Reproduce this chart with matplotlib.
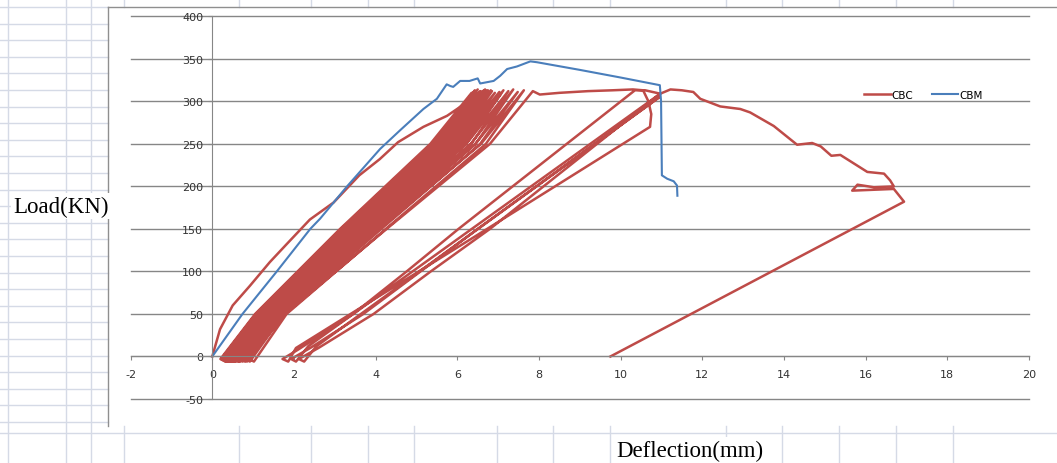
import matplotlib
matplotlib.use('Agg')
import matplotlib.pyplot as plt
from matplotlib.patches import Rectangle
import numpy as np

plt.rcParams['axes.unicode_minus'] = False

# CBM - monotonic loading (deflection mm, load kN)
cbm_x = [0.00, 0.74, 1.58, 2.40, 2.64, 3.30, 4.11, 4.60, 5.17, 5.50, 5.74, 5.83,
         5.90, 6.07, 6.30, 6.50, 6.56, 6.89, 7.05, 7.22, 7.46, 7.79, 7.95, 9.00,
         10.00, 10.96, 10.99, 11.01, 11.14, 11.30, 11.38, 11.39]
cbm_y = [0, 50, 100, 150, 162, 200, 244, 266, 291, 303, 320, 318,
         317, 324, 324, 327, 321, 324, 330, 338, 341, 347, 346, 337,
         328, 319, 300, 213, 209, 206, 201, 189]

# CBC - cyclic loading, traced point by point (deflection, load)
cbc_first = [
    (0.00, 0), (0.19, 32), (0.50, 60), (0.92, 83), (1.41, 111), (1.82, 132),
    (2.39, 161), (2.97, 181), (3.60, 213), (4.10, 232), (4.55, 252), (5.17, 270),
    (5.75, 283), (6.24, 299), (6.56, 311), (6.75, 313),
    (5.62, 250), (3.42, 150), (1.30, 50),
]
# cycles peaking near 310 kN
cbc_cycles_a = [
    (0.32, -6), (0.20, -3), (1.05, 50), (3.13, 150), (5.34, 250), (6.35, 310), (5.46, 250), (3.28, 150), (1.20, 50),
    (0.36, -6), (0.24, -3), (1.09, 50), (3.19, 150), (5.41, 250), (6.43, 313), (5.53, 250), (3.34, 150), (1.24, 50),
    (0.34, -6), (0.22, -3), (1.07, 50), (3.16, 150), (5.38, 250), (6.40, 311), (5.50, 250), (3.31, 150), (1.22, 50),
    (0.39, -6), (0.27, -3), (1.12, 50), (3.24, 150), (5.49, 250), (6.50, 314), (5.61, 250), (3.39, 150), (1.27, 50),
    (0.42, -6), (0.30, -3), (1.15, 50), (3.29, 150), (5.54, 250), (6.56, 312), (5.66, 250), (3.44, 150), (1.30, 50),
    (0.38, -6), (0.26, -3), (1.12, 50), (3.23, 150), (5.47, 250), (6.49, 309), (5.59, 250), (3.38, 150), (1.27, 50),
    (0.46, -6), (0.34, -3), (1.20, 50), (3.36, 150), (5.63, 250), (6.65, 313), (5.75, 250), (3.51, 150), (1.35, 50),
    (0.50, -6), (0.38, -3), (1.24, 50), (3.43, 150), (5.72, 250), (6.74, 311), (5.84, 250), (3.58, 150), (1.39, 50),
    (0.47, -6), (0.35, -3), (1.21, 50), (3.38, 150), (5.66, 250), (6.68, 314), (5.78, 250), (3.53, 150), (1.36, 50),
    (0.55, -6), (0.43, -3), (1.29, 50), (3.51, 150), (5.82, 250), (6.85, 312), (5.94, 250), (3.66, 150), (1.44, 50),
    (0.59, -6), (0.47, -3), (1.33, 50), (3.56, 150), (5.89, 250), (6.92, 310), (6.01, 250), (3.71, 150), (1.48, 50),
    (0.54, -6), (0.42, -3), (1.28, 50), (3.48, 150), (5.79, 250), (6.82, 313), (5.91, 250), (3.63, 150), (1.43, 50),
    (0.64, -6), (0.52, -3), (1.38, 50), (3.64, 150), (6.00, 250), (7.03, 311), (6.12, 250), (3.79, 150), (1.53, 50),
    (0.68, -6), (0.56, -3), (1.43, 50), (3.72, 150), (6.10, 250), (7.13, 313), (6.22, 250), (3.87, 150), (1.58, 50),
    (0.66, -6), (0.54, -3), (1.40, 50), (3.68, 150), (6.04, 250), (7.07, 309), (6.16, 250), (3.83, 150), (1.55, 50),
    (0.74, -6), (0.62, -3), (1.49, 50), (3.81, 150), (6.22, 250), (7.25, 312), (6.34, 250), (3.96, 150), (1.64, 50),
    (0.80, -6), (0.68, -3), (1.55, 50), (3.91, 150), (6.33, 250), (7.37, 314), (6.45, 250), (4.06, 150), (1.70, 50),
    (0.85, -6), (0.73, -3), (1.60, 50), (3.99, 150), (6.44, 250), (7.48, 311), (6.56, 250), (4.14, 150), (1.75, 50),
    (0.92, -6), (0.80, -3), (1.67, 50), (4.10, 150), (6.58, 250), (7.63, 313), (6.70, 250), (4.25, 150), (1.82, 50),
    (1.02, -6), (0.90, -3), (1.78, 50), (4.27, 150), (6.80, 250), (7.85, 312),
]
# push along the plateau and cycles from about 2 mm
cbc_cycles_b = [
    (8.02, 308), (8.50, 310), (9.20, 312), (9.80, 313), (10.30, 314), (10.55, 313),
    (10.68, 300), (10.75, 285), (10.72, 270),
    (6.73, 150), (2.05, 10), (1.86, -6), (1.72, -3),
    (2.10, 8), (3.45, 50), (4.76, 100), (6.03, 150), (10.35, 313), (10.60, 313),
    (10.97, 309),
    (2.35, 12), (2.05, -6), (1.93, -3), (2.40, 10), (3.70, 50), (5.10, 100),
    (6.50, 150), (10.95, 305),
    (2.55, 12), (2.25, -6), (2.12, -3), (2.60, 10), (3.95, 50), (5.35, 100),
    (6.80, 150), (10.97, 309),
]
# final loading to failure and unloading
cbc_final = [
    (11.22, 314), (11.50, 313), (11.78, 311), (11.95, 303), (12.44, 294), (12.93, 291),
    (13.17, 287), (13.75, 271), (14.32, 249), (14.69, 251), (14.90, 247), (15.16, 236),
    (15.38, 237), (16.04, 217), (16.45, 215), (16.60, 207), (16.69, 200), (16.20, 199),
    (15.80, 202), (15.67, 195), (16.69, 197), (16.94, 182), (9.75, 0),
]
cbc_x, cbc_y = zip(*(cbc_first + cbc_cycles_a + cbc_cycles_b + cbc_final))

x_ticks = list(range(-2, 21, 2))
y_ticks = list(range(-50, 401, 50))

W, H = 1057, 464
fig = plt.figure(figsize=(W / 100, H / 100), dpi=100)

# spreadsheet behind the chart
bg = fig.add_axes([0, 0, 1, 1])
bg.set_xlim(0, W)
bg.set_ylim(H, 0)
bg.axis('off')
sheet = '#d5dae6'
for yy in np.arange(8, 430, 16.6):
    bg.plot([0, 108], [yy, yy], color=sheet, lw=1)
for xx in [8, 66, 91]:
    bg.plot([xx, xx], [0, H], color=sheet, lw=1)
for xx in [124, 239, 311, 368, 414, 497, 553, 610, 726, 782, 839, 896, 953]:
    bg.plot([xx, xx], [0, 8], color=sheet, lw=1)
    bg.plot([xx, xx], [427, H], color=sheet, lw=1)
bg.plot([0, W], [434, 434], color=sheet, lw=1)
bg.add_patch(Rectangle((108, 8), W - 108, 419, facecolor='white', edgecolor='none'))
bg.plot([108, 108], [8, 427], color='#8f8f8f', lw=1)
bg.plot([108, W], [8, 8], color='#8f8f8f', lw=1)

ax = fig.add_axes([130.6 / W, (H - 400) / H, (1029 - 130.6) / W, (400 - 17.3) / H])
ax.patch.set_alpha(0)

for yv in y_ticks:
    ax.axhline(yv, color='#868686', lw=1, zorder=0, clip_on=False)

ax.plot(cbc_x, cbc_y, color='#be4b48', lw=1.8, label='CBC')
ax.plot(cbm_x, cbm_y, color='#4a7ebb', lw=1.5, label='CBM')

ax.set_xlim(-2, 20)
ax.set_ylim(-50, 400)
ax.set_xticks(x_ticks)
ax.set_yticks(y_ticks)
for s in ['top', 'right']:
    ax.spines[s].set_visible(False)
ax.spines['left'].set_position(('data', 0))
ax.spines['bottom'].set_position(('data', 0))
for s in ['left', 'bottom']:
    ax.spines[s].set_color('#868686')
ax.tick_params(axis='x', direction='out', length=3, color='#868686',
               labelsize=8, labelcolor='#333333', pad=6)
ax.tick_params(axis='y', direction='out', length=3, color='#868686',
               labelsize=8, labelcolor='#333333', pad=3.5)

ax.legend(loc='center', bbox_to_anchor=(923.5 / W, 1 - 96 / H),
          bbox_transform=fig.transFigure, ncol=2, frameon=False,
          fontsize=7.5, handlelength=2.5, handletextpad=0.1, columnspacing=1.8)

fig.text(13 / W, 1 - 207 / H, 'Load(KN)', family='Liberation Serif', fontsize=16.5,
         ha='left', va='center',
         bbox=dict(facecolor='white', edgecolor='none', pad=1.5))
fig.text(690 / W, 1 - 451 / H, 'Deflection(mm)', family='Liberation Serif', fontsize=16.5,
         ha='center', va='center',
         bbox=dict(facecolor='white', edgecolor='none', pad=1.5))

fig.savefig('out.png', dpi=100)
